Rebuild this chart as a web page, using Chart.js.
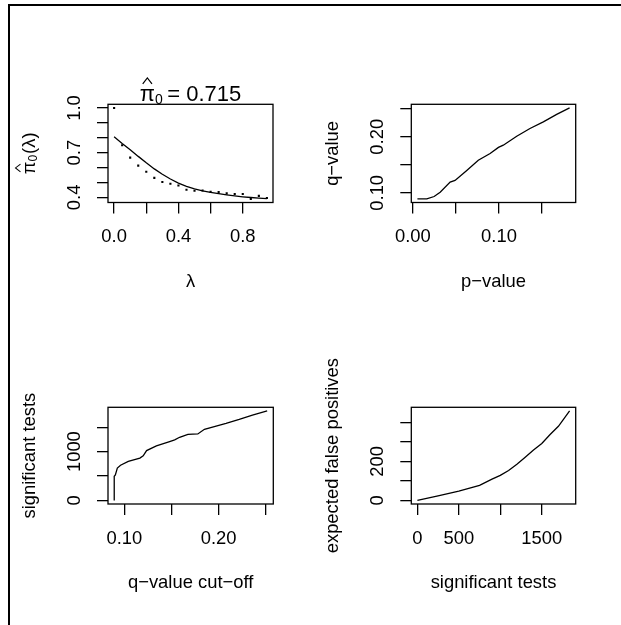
<!DOCTYPE html>
<html><head><meta charset="utf-8">
<script src="https://cdn.jsdelivr.net/npm/chart.js@4.4.1/dist/chart.umd.min.js"></script>
<style>
html,body{margin:0;padding:0;background:#fff;width:621px;height:625px;overflow:hidden;position:relative}
#frame{position:absolute;left:8px;top:4px;width:700px;height:700px;border-top:2px solid #000;border-left:2px solid #000}
canvas{position:absolute}
</style></head><body>
<div id="frame"></div>
<canvas id="c1" width="310" height="312" style="left:0;top:0"></canvas>
<canvas id="c2" width="311" height="312" style="left:310px;top:0"></canvas>
<canvas id="c3" width="310" height="313" style="left:0;top:312px"></canvas>
<canvas id="c4" width="311" height="313" style="left:310px;top:312px"></canvas>
<script>
// ---- data ----
const lambda = [0, 0.05, 0.1, 0.15, 0.2, 0.25, 0.3, 0.35, 0.4, 0.45, 0.5, 0.55, 0.6, 0.65, 0.7, 0.75, 0.8, 0.85, 0.9, 0.95];
const pi0Raw = [1.0, 0.75, 0.667, 0.613, 0.572, 0.531, 0.503, 0.491, 0.48, 0.451, 0.444, 0.446, 0.437, 0.435, 0.427, 0.423, 0.423, 0.39, 0.41, 0.396];
const pi0Smooth = [0.806, 0.762, 0.72, 0.675, 0.632, 0.591, 0.555, 0.523, 0.496, 0.474, 0.457, 0.444, 0.434, 0.425, 0.417, 0.41, 0.404, 0.399, 0.395, 0.391];
const pi0HatText = "0.715";

const pValues = [0.0053, 0.0162, 0.0247, 0.0317, 0.0433, 0.049, 0.0626, 0.076, 0.0897, 0.0994, 0.105, 0.1206, 0.136, 0.1515, 0.167, 0.182];
const qValues = [0.0892, 0.0892, 0.0934, 0.101, 0.119, 0.122, 0.140, 0.158, 0.170, 0.181, 0.1849, 0.2009, 0.2147, 0.2266, 0.2398, 0.2514];

const qCutoff = [0.0893, 0.0893, 0.0905, 0.0926, 0.0960, 0.1042, 0.1165, 0.12, 0.1236, 0.134, 0.148, 0.1534, 0.1586, 0.1674, 0.1779, 0.1849, 0.1973, 0.2078, 0.2218, 0.2358, 0.2514];
const sigTests = [0, 494, 520, 664, 720, 800, 867, 914, 1022, 1118, 1205, 1240, 1294, 1355, 1362, 1457, 1524, 1579, 1660, 1748, 1835];

const sigN = [1, 250, 500, 750, 900, 1000, 1100, 1200, 1300, 1400, 1500, 1600, 1700, 1835];
const expFalsePos = [0, 23, 47, 77, 109, 128, 153, 185, 221, 258, 291, 337, 379, 458];

// tick values and labels
const lambdaTicks = [0, 0.2, 0.4, 0.6, 0.8];
const lambdaLabels = ['0.0', '', '0.4', '', '0.8'];
const pi0Ticks = [0.4, 0.5, 0.6, 0.7, 0.8, 0.9, 1.0];
const pi0Labels = ['0.4', '', '', '0.7', '', '', '1.0'];
const pTicks = [0, 0.05, 0.10, 0.15];
const pLabels = ['0.00', '', '0.10', ''];
const qTicks = [0.10, 0.15, 0.20, 0.25];
const qLabels = ['0.10', '', '0.20', ''];
const sigTicks = [0, 500, 1000, 1500];
const sigYLabels = ['0', '', '1000', ''];
const sigXLabels = ['0', '500', '', '1500'];
const fpTicks = [0, 100, 200, 300, 400];
const fpLabels = ['0', '', '200', '', ''];

// ---- drawing setup ----
const FAMILY = '"Liberation Sans", Arial, Helvetica, sans-serif';
const FS = 18.4;
const tickFont = {family: FAMILY, size: FS, lineHeight: 1};

function measureMax(labels) {
  const c = document.createElement('canvas').getContext('2d');
  c.font = FS + 'px ' + FAMILY;
  return Math.max(0, ...labels.map(l => c.measureText(l).width));
}
function lab(ticks, labels, v) {
  for (let i = 0; i < ticks.length; i++) if (Math.abs(ticks[i] - v) < 1e-9) return labels[i];
  return '';
}
const boxPlugin = {
  id: 'rbox',
  afterDatasetsDraw(chart) {
    const a = chart.chartArea, c = chart.ctx;
    c.save(); c.strokeStyle = '#000'; c.lineWidth = 1.3;
    c.strokeRect(a.left, a.top, a.right - a.left, a.bottom - a.top);
    c.restore();
  }
};

function drawPiHat(ctx, x0, base, size, subSize, tail, gap) {
  ctx.font = size + 'px ' + FAMILY;
  const wPi = ctx.measureText('π').width;
  ctx.font = subSize + 'px ' + FAMILY;
  const wSub = ctx.measureText('0').width;
  ctx.font = size + 'px ' + FAMILY;
  const wTail = ctx.measureText(tail).width;
  const total = wPi + wSub + gap + wTail;
  if (x0 === null) return total;
  ctx.fillStyle = '#000'; ctx.strokeStyle = '#000';
  ctx.textAlign = 'left'; ctx.textBaseline = 'alphabetic';
  ctx.font = size + 'px ' + FAMILY;
  ctx.fillText('π', x0, base);
  const cx = x0 + wPi / 2, hy = base - size * 0.79, hh = size * 0.27, hw = size * 0.21;
  ctx.beginPath(); ctx.moveTo(cx - hw, hy); ctx.lineTo(cx, hy - hh); ctx.lineTo(cx + hw, hy);
  ctx.lineWidth = Math.max(1, size * 0.055); ctx.stroke();
  ctx.font = subSize + 'px ' + FAMILY;
  ctx.fillText('0', x0 + wPi, base + size * 0.12);
  ctx.font = size + 'px ' + FAMILY;
  ctx.fillText(tail, x0 + wPi + wSub + gap, base);
  return total;
}

const pi0TextPlugin = {
  id: 'pi0text',
  afterDraw(chart) {
    const c = chart.ctx, a = chart.chartArea;
    c.save();
    // main title
    const tSize = 22, cxT = (a.left + a.right) / 2;
    const wT = drawPiHat(c, null, 0, tSize, 14, '= ' + pi0HatText, 4.5);
    drawPiHat(c, cxT - wT / 2, a.top - 3, tSize, 14, '= ' + pi0HatText, 4.5);
    // y label
    const wY = drawPiHat(c, null, 0, FS, 12, '(λ)', 1);
    c.translate(a.left - 73, (a.top + a.bottom) / 2);
    c.rotate(-Math.PI / 2);
    drawPiHat(c, -wY / 2, 0, FS, 12, '(λ)', 1);
    c.restore();
  }
};

function panel(id, W, H, box, xs, ys, datasets, extra) {
  const XH = 100;
  const widest = measureMax(ys.labels);
  return new Chart(document.getElementById(id), {
    type: 'scatter',
    data: {datasets},
    options: {
      responsive: false, animation: false, devicePixelRatio: 1, events: [],
      layout: {padding: {left: 0, top: box.t, right: W - box.r, bottom: H - box.b - XH}},
      plugins: {legend: {display: false}, tooltip: {enabled: false}, title: {display: false}},
      scales: {
        x: {
          type: 'linear', position: 'bottom', bounds: 'data', min: xs.min, max: xs.max,
          afterBuildTicks: s => { s.ticks = xs.ticks.map(v => ({value: v})); },
          afterFit: s => { s.height = XH; },
          grid: {display: true, drawOnChartArea: false, drawTicks: true, tickLength: 11, color: '#000', lineWidth: 1.3},
          border: {display: false},
          ticks: {autoSkip: false, maxRotation: 0, minRotation: 0, padding: 34.5 - 11 - FS / 2, color: '#000', font: tickFont,
                  callback: v => lab(xs.ticks, xs.labels, v)},
          title: {display: !!xs.title, text: xs.title || '', color: '#000', font: tickFont, padding: {top: 0, bottom: XH - 79 - FS / 2}}
        },
        y: {
          type: 'linear', position: 'left', bounds: 'data', min: ys.min, max: ys.max,
          afterBuildTicks: s => { s.ticks = ys.ticks.map(v => ({value: v})); },
          afterFit: s => { s.width = box.l; },
          grid: {display: true, drawOnChartArea: false, drawTicks: true, tickLength: 11, color: '#000', lineWidth: 1.3},
          border: {display: false},
          ticks: {autoSkip: false, minRotation: 90, maxRotation: 90, crossAlign: 'center', padding: 33 - 11 - widest / 2,
                  color: '#000', font: tickFont, callback: v => lab(ys.ticks, ys.labels, v)},
          title: {display: !!ys.title, text: ys.title || '', color: '#000', font: tickFont, padding: {top: box.l - 78 - FS / 2, bottom: 0}}
        }
      }
    },
    plugins: [boxPlugin].concat(extra || [])
  });
}

const lineStyle = {showLine: true, pointRadius: 0, borderColor: '#000', borderWidth: 1.3, fill: false, tension: 0};

panel('c1', 310, 312, {l: 108, t: 104.3, r: 273, b: 202.5},
  {min: -0.038, max: 0.988, ticks: lambdaTicks, labels: lambdaLabels, title: 'λ'},
  {min: 0.3656, max: 1.0244, ticks: pi0Ticks, labels: pi0Labels, title: ''},
  [
    {data: lambda.map((x, i) => ({x, y: pi0Raw[i]})), showLine: false, pointStyle: 'rect', pointRadius: 1.5,
     pointBackgroundColor: '#000', pointBorderWidth: 0},
    Object.assign({data: lambda.map((x, i) => ({x, y: pi0Smooth[i]}))}, lineStyle)
  ], [pi0TextPlugin]);

panel('c2', 311, 312, {l: 101.3, t: 104.3, r: 265.7, b: 202.5},
  {min: -0.0018, max: 0.1891, ticks: pTicks, labels: pLabels, title: 'p\u2212value'},
  {min: 0.0827, max: 0.2579, ticks: qTicks, labels: qLabels, title: 'q\u2212value'},
  [Object.assign({data: pValues.map((x, i) => ({x, y: qValues[i]}))}, lineStyle)]);

panel('c3', 310, 313, {l: 108, t: 95.3, r: 273.3, b: 192},
  {min: 0.0827, max: 0.2579, ticks: qTicks, labels: qLabels, title: 'q\u2212value cut\u2212off'},
  {min: -73.4, max: 1908.4, ticks: sigTicks, labels: sigYLabels, title: 'significant tests'},
  [Object.assign({data: qCutoff.map((x, i) => ({x, y: sigTests[i]}))}, lineStyle)]);

panel('c4', 311, 313, {l: 101.3, t: 95.3, r: 265.7, b: 192},
  {min: -72.4, max: 1908.4, ticks: sigTicks, labels: sigXLabels, title: 'significant tests'},
  {min: -18.3, max: 476.3, ticks: fpTicks, labels: fpLabels, title: 'expected false positives'},
  [Object.assign({data: sigN.map((x, i) => ({x, y: expFalsePos[i]}))}, lineStyle)]);
</script>
</body></html>
